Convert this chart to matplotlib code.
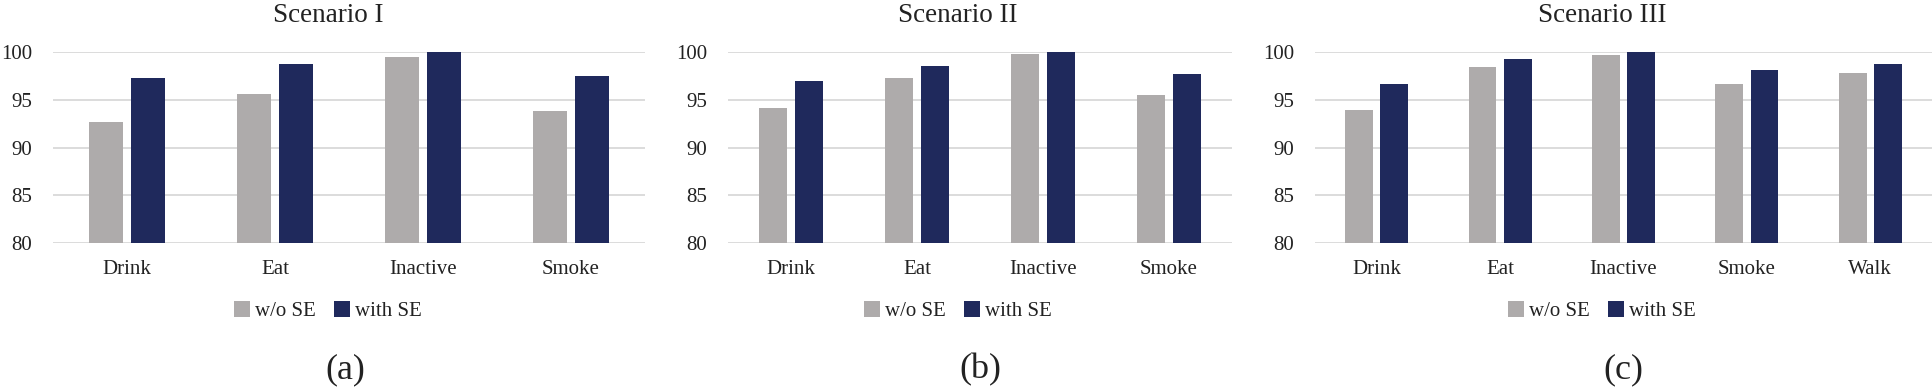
import matplotlib
matplotlib.use('Agg')
import matplotlib.pyplot as plt
import numpy as np

plt.rcParams['font.family'] = ['Liberation Serif', 'DejaVu Serif']

# data
cats_a = ['Drink', 'Eat', 'Inactive', 'Smoke']
wo_a = [92.7, 95.6, 99.5, 93.8]
with_a = [97.3, 98.8, 100.0, 97.5]

cats_b = ['Drink', 'Eat', 'Inactive', 'Smoke']
wo_b = [94.2, 97.3, 99.8, 95.5]
with_b = [97.0, 98.6, 100.0, 97.7]

cats_c = ['Drink', 'Eat', 'Inactive', 'Smoke', 'Walk']
wo_c = [93.9, 98.5, 99.7, 96.7, 97.8]
with_c = [96.7, 99.3, 100.0, 98.1, 98.8]

titles = ['Scenario I', 'Scenario II', 'Scenario III']
sublabels = ['(a)', '(b)', '(c)']
yticks = [80, 85, 90, 95, 100]

c_wo = '#AEABAB'
c_with = '#1F295C'

W, H = 1932, 391
fig = plt.figure(figsize=(W / 100, H / 100), dpi=100)

# panel positions in pixels: axes left, axes width, text centre
panels = [(53, 592, 328), (728, 504, 958), (1315, 617, 1602)]
sub_x = [345, 980, 1623]
top_px, bot_px = 52.3, 243

data = [(cats_a, wo_a, with_a), (cats_b, wo_b, with_b), (cats_c, wo_c, with_c)]

for i, ((cats, wo, wi), (left, width, cx)) in enumerate(zip(data, panels)):
    ax = fig.add_axes([left / W, 1 - bot_px / H, width / W, (bot_px - top_px) / H])
    x = np.arange(len(cats))
    b1 = ax.bar(x - 0.142, np.array(wo) - 80, 0.225, bottom=80, color=c_wo, zorder=3, label='w/o SE')
    b2 = ax.bar(x + 0.142, np.array(wi) - 80, 0.225, bottom=80, color=c_with, zorder=3, label='with SE')
    ax.set_xlim(-0.5, len(cats) - 0.5)
    ax.set_ylim(80, 100)
    ax.set_yticks(yticks)
    ax.set_xticks(x)
    ax.set_xticklabels(cats)
    ax.tick_params(axis='both', length=0, labelsize=15, colors='#222222')
    ax.tick_params(axis='x', pad=12)
    ax.tick_params(axis='y', pad=15)
    ax.grid(axis='y', color='#D9D9D9', linewidth=1.3, zorder=0)
    for s in ax.spines.values():
        s.set_visible(False)
    ax.set_facecolor('white')

    fig.text(cx / W, 1 - 15 / H, titles[i], ha='center', va='center', fontsize=19.5, color='#222222')
    fig.legend([b1, b2], ['w/o SE', 'with SE'], loc='center', bbox_to_anchor=(cx / W, 1 - 311 / H),
               ncol=2, frameon=False, fontsize=15, handlelength=0.75, handleheight=0.8,
               handletextpad=0.25, columnspacing=0.9, labelcolor='#222222')
    fig.text(sub_x[i] / W, 1 - 370 / H, sublabels[i], ha='center', va='center', fontsize=26, color='#222222')

fig.savefig('out.png', dpi=100)
